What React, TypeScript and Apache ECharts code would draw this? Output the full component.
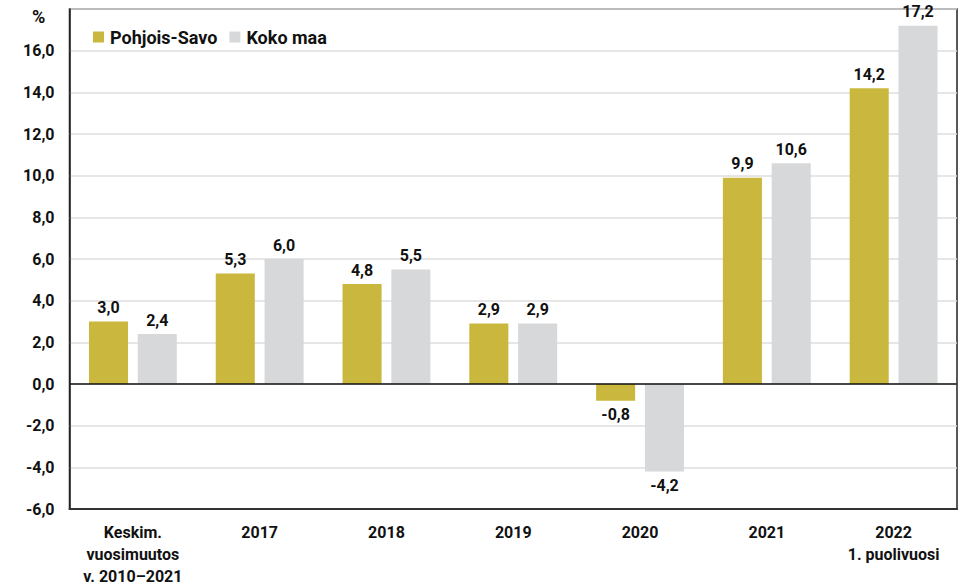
import React, { useEffect, useRef } from "react";
import * as echarts from "echarts";

const categories = [
  "Keskim.\nvuosimuutos\nv. 2010–2021",
  "2017",
  "2018",
  "2019",
  "2020",
  "2021",
  "2022\n1. puolivuosi",
];
const pohjoisSavo = [3.0, 5.3, 4.8, 2.9, -0.8, 9.9, 14.2];
const kokoMaa = [2.4, 6.0, 5.5, 2.9, -4.2, 10.6, 17.2];
const seriesNames = ["Pohjois-Savo", "Koko maa"];
const colors = ["#C9B83D", "#D7D8DA"];
const yMin = -6;
const yMax = 18;
const yStep = 2;

const FONT = "Roboto, 'Noto Sans', sans-serif";
const fmt = (v: number) => v.toFixed(1).replace(".", ",");

function toItems(values: number[]) {
  return values.map((v) => ({
    value: v,
    label: { position: v < 0 ? "bottom" : "top" },
  }));
}

export default function App() {
  const ref = useRef<HTMLDivElement>(null);
  useEffect(() => {
    document.body.style.margin = "0";
    if (!ref.current) return;
    const chart = echarts.init(ref.current, undefined, { renderer: "svg" });
    const labelCommon = {
      show: true,
      distance: 6,
      color: "#111",
      fontFamily: FONT,
      fontWeight: "bold",
      fontSize: 16,
      formatter: (p: any) => fmt(p.value),
    };
    chart.setOption({
      animation: false,
      backgroundColor: "#fff",
      textStyle: { fontFamily: FONT },
      color: colors,
      legend: {
        left: 88,
        top: 23,
        icon: "rect",
        itemWidth: 11,
        itemHeight: 11,
        itemGap: 12,
        textStyle: {
          fontFamily: FONT,
          fontWeight: "bold",
          fontSize: 18,
          color: "#111",
          padding: [0, 0, 0, 1],
        },
        data: seriesNames,
      },
      graphic: [
        {
          type: "text",
          left: 32,
          top: 7,
          style: {
            text: "%",
            font: "bold 18px Roboto, sans-serif",
            fill: "#111",
          },
        },
      ],
      grid: {
        left: 69.5,
        right: 7,
        top: 9,
        bottom: 73,
        show: true,
        borderColor: "#222",
        borderWidth: 1.5,
        backgroundColor: "transparent",
      },
      xAxis: {
        type: "category",
        data: categories,
        axisLine: { show: true, onZero: false, lineStyle: { color: "#333", width: 2 } },
        axisTick: { show: false },
        axisLabel: {
          margin: 12,
          color: "#111",
          fontFamily: FONT,
          fontWeight: "bold",
          fontSize: 16,
          lineHeight: 22,
          interval: 0,
        },
      },
      yAxis: {
        type: "value",
        min: yMin,
        max: yMax,
        interval: yStep,
        axisLine: { show: true, lineStyle: { color: "#222", width: 1.5 } },
        axisTick: { show: false },
        splitLine: { show: true, lineStyle: { color: "#DEDEDE", width: 1.5 } },
        axisLabel: {
          margin: 15,
          color: "#111",
          fontFamily: FONT,
          fontWeight: "bold",
          fontSize: 16,
          formatter: (v: number) => (v > 16 ? "" : fmt(v)),
        },
      },
      series: [
        {
          name: seriesNames[0],
          type: "bar",
          data: toItems(pohjoisSavo),
          barWidth: "30.8%",
          barGap: "25%",
          label: labelCommon,
          itemStyle: { color: colors[0] },
          markLine: {
            silent: true,
            symbol: "none",
            label: { show: false },
            lineStyle: { color: "#111", width: 1.5, type: "solid" },
            data: [{ yAxis: 0 }],
          },
        },
        {
          name: seriesNames[1],
          type: "bar",
          data: toItems(kokoMaa),
          barWidth: "30.8%",
          barGap: "25%",
          label: labelCommon,
          itemStyle: { color: colors[1] },
        },
      ],
    });
    return () => chart.dispose();
  }, []);
  return <div ref={ref} style={{ width: 964, height: 587 }} />;
}
